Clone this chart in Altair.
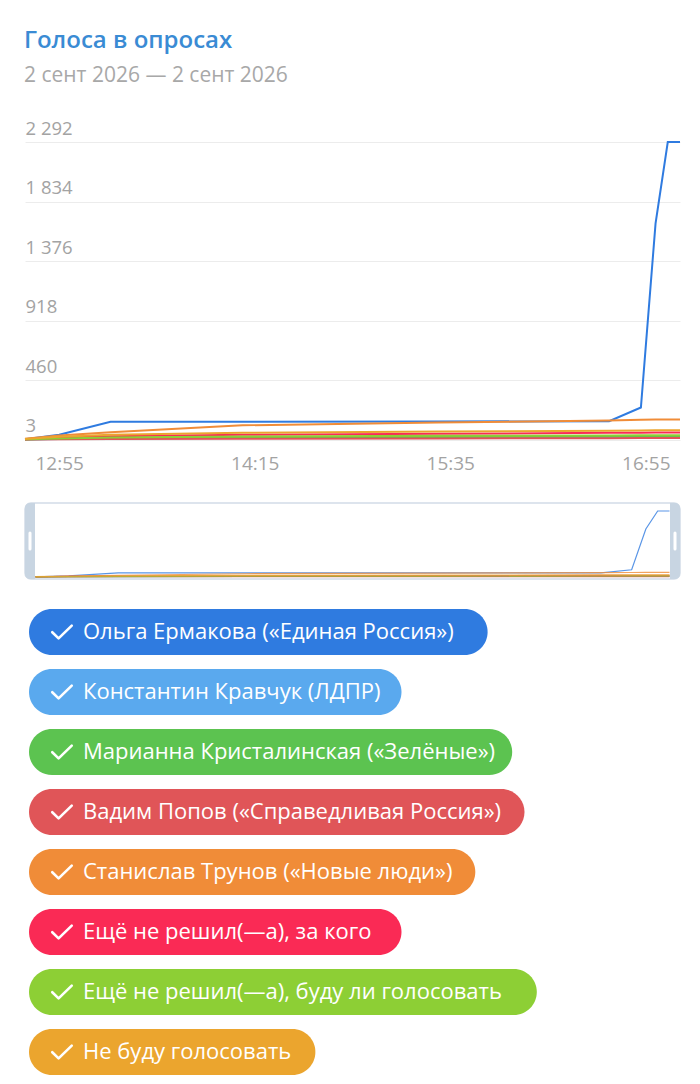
import altair as alt
import pandas as pd
from datetime import datetime, timezone

# ---------------- data ----------------
date = (2026, 9, 2)
times = ["12:41", "12:55", "13:16", "14:10", "15:30", "16:40", "16:53", "16:59", "17:04", "17:09"]

series = [
    "Ольга Ермакова («Единая Россия»)",
    "Константин Кравчук (ЛДПР)",
    "Марианна Кристалинская («Зелёные»)",
    "Вадим Попов («Справедливая Россия»)",
    "Станислав Трунов («Новые люди»)",
    "Ещё не решил(—а), за кого",
    "Ещё не решил(—а), буду ли голосовать",
    "Не буду голосовать",
]
colors = ["#2f7be0", "#5aa9ee", "#5cc350", "#e05558", "#f08c38", "#fa2a55", "#8dcf35", "#eba52e"]

ermakova = [5, 40, 140, 140, 142, 145, 250, 1666, 2292, 2292]
kravchuk = [3, 8, 12, 16, 19, 22, 23, 23, 23, 23]
kristalinskaya = [4, 10, 15, 20, 24, 27, 28, 28, 28, 28]
popov = [3, 5, 8, 10, 12, 14, 15, 15, 15, 15]
trunov = [10, 35, 60, 113, 135, 150, 155, 157, 157, 157]
undecided_whom = [6, 18, 28, 40, 48, 55, 56, 57, 57, 57]
undecided_vote = [5, 12, 20, 27, 32, 35, 36, 36, 36, 36]
not_voting = [8, 25, 40, 55, 65, 72, 74, 75, 75, 75]

y_ticks = [3, 460, 918, 1376, 1834, 2292]
x_ticks = ["12:55", "14:15", "15:35", "16:55"]

title_text = "Голоса в опросах"
subtitle_text = "2 сент 2026 — 2 сент 2026"

# ---------------- helpers ----------------
def ms(hhmm):
    h, m = map(int, hhmm.split(":"))
    return datetime(*date, h, m, tzinfo=timezone.utc).timestamp() * 1000


values_by_series = [ermakova, kravchuk, kristalinskaya, popov, trunov,
                    undecided_whom, undecided_vote, not_voting]
rows = []
for name, vals in zip(series, values_by_series):
    for t, v in zip(times, vals):
        rows.append({"series": name, "time": ms(t), "value": v})
df = pd.DataFrame(rows)

FONT = "Open Sans"
W = 655
H_MAIN = 298
H_NAV = 76
LABEL_GREY = "#a3a3a3"
CHECK_PATH = "M -1 0.02 L -0.35 0.65 L 1 -0.65"

t0, t1 = ms(times[0]), ms(times[-1])
span = t1 - t0
nav_pad = span * 10.5 / (W - 21)

color_enc = alt.Color("series:N", scale=alt.Scale(domain=series, range=colors), legend=None)

# ---------------- main chart ----------------
main = alt.Chart(df).mark_line(strokeWidth=2).encode(
    x=alt.X(
        "time:T",
        scale=alt.Scale(type="utc", domain=[t0, t1], nice=False),
        axis=alt.Axis(
            values=[ms(t) for t in x_ticks],
            labelExpr="utcFormat(datum.value, '%H:%M')",
            title=None, ticks=False, domain=False, grid=False,
            labelPadding=14, labelFontSize=19, labelColor=LABEL_GREY, labelFont=FONT,
            labelFlush=False, labelOverlap=False,
        ),
    ),
    y=alt.Y(
        "value:Q",
        scale=alt.Scale(domain=[0, 2292], nice=False, zero=False),
        axis=alt.Axis(
            values=y_ticks, title=None, ticks=False, domain=False,
            grid=True, gridColor="#ececec", gridWidth=1,
            labelAlign="left", labelBaseline="alphabetic", labelPadding=0, labelOffset=-8,
            labelFontSize=18.5, labelColor=LABEL_GREY, labelFont=FONT,
            labelExpr="replace(format(datum.value, ','), ',', ' ')",
            labelOverlap=False, labelFlush=False,
        ),
    ),
    color=color_enc,
).properties(width=W, height=H_MAIN)

# ---------------- navigator ----------------
one = pd.DataFrame({"a": [0]})
nav_box = alt.Chart(one).mark_rect(
    fill="white", stroke="#d2dce7", strokeWidth=1.5, cornerRadius=6
).encode(x=alt.value(0), x2=alt.value(W), y=alt.value(0), y2=alt.value(H_NAV))

nav_lines = alt.Chart(df).mark_line(strokeWidth=1.2, opacity=0.8).encode(
    x=alt.X("time:T", scale=alt.Scale(type="utc", domain=[t0 - nav_pad, t1 + nav_pad], nice=False), axis=None),
    y=alt.Y("value:Q", scale=alt.Scale(domain=[-70, 2570], nice=False, zero=False), axis=None),
    color=color_enc,
)

handle_l = alt.Chart(one).mark_rect(
    fill="#c8d5e2", cornerRadiusTopLeft=6, cornerRadiusBottomLeft=6
).encode(x=alt.value(0), x2=alt.value(10), y=alt.value(0), y2=alt.value(H_NAV))
handle_r = alt.Chart(one).mark_rect(
    fill="#c8d5e2", cornerRadiusTopRight=6, cornerRadiusBottomRight=6
).encode(x=alt.value(W - 10), x2=alt.value(W), y=alt.value(0), y2=alt.value(H_NAV))
grip_l = alt.Chart(one).mark_rule(color="white", strokeWidth=3, strokeCap="round").encode(
    x=alt.value(5), y=alt.value(30), y2=alt.value(46))
grip_r = alt.Chart(one).mark_rule(color="white", strokeWidth=3, strokeCap="round").encode(
    x=alt.value(W - 5), y=alt.value(30), y2=alt.value(46))

nav = alt.layer(nav_box, nav_lines, handle_l, handle_r, grip_l, grip_r).properties(
    width=W, height=H_NAV)

# ---------------- legend pills ----------------
leg_df = pd.DataFrame({"series": series})
step = 60
p_inner = 14 / step
leg_h = int(round(step * (len(series) - p_inner)))
y_leg = alt.Y("series:N", sort=series, axis=None,
              scale=alt.Scale(paddingInner=p_inner, paddingOuter=0))

leg_base = alt.Chart(leg_df).transform_calculate(
    x0="4", x1="4 + 65 + 12.3 * length(datum.series)"
)
pills = leg_base.mark_bar(cornerRadius=23).encode(
    x=alt.X("x0:Q", scale=alt.Scale(domain=[0, W], nice=False, zero=False), axis=None),
    x2="x1:Q",
    y=y_leg,
    color=color_enc,
)
checks = leg_base.mark_point(
    shape=CHECK_PATH, filled=False, color="white", opacity=1, size=380,
    strokeWidth=2.6, strokeCap="round", strokeJoin="round",
).encode(x=alt.value(37), y=y_leg)
labels = leg_base.mark_text(align="left", baseline="middle", color="white",
                            fontSize=22, font=FONT).encode(
    x=alt.value(58), y=y_leg, text="series:N")

legend = alt.layer(pills, checks, labels).properties(width=W, height=leg_h)

# ---------------- compose ----------------
chart = alt.vconcat(main, nav, legend, spacing=29).resolve_scale(
    x="independent", y="independent"
).properties(
    title=alt.TitleParams(
        text=title_text, subtitle=subtitle_text, anchor="start",
        font=FONT, fontSize=24, fontWeight=600, color="#3a8bd4",
        subtitleFont=FONT, subtitleFontSize=21, subtitleColor="#a8a8a8",
        subtitlePadding=12, offset=33, dx=3,
    ),
    padding={"left": 13, "top": 21, "right": 5, "bottom": 5},
).configure_view(stroke=None)

chart.save("out.html", embed_options={"renderer": "svg", "actions": False})
